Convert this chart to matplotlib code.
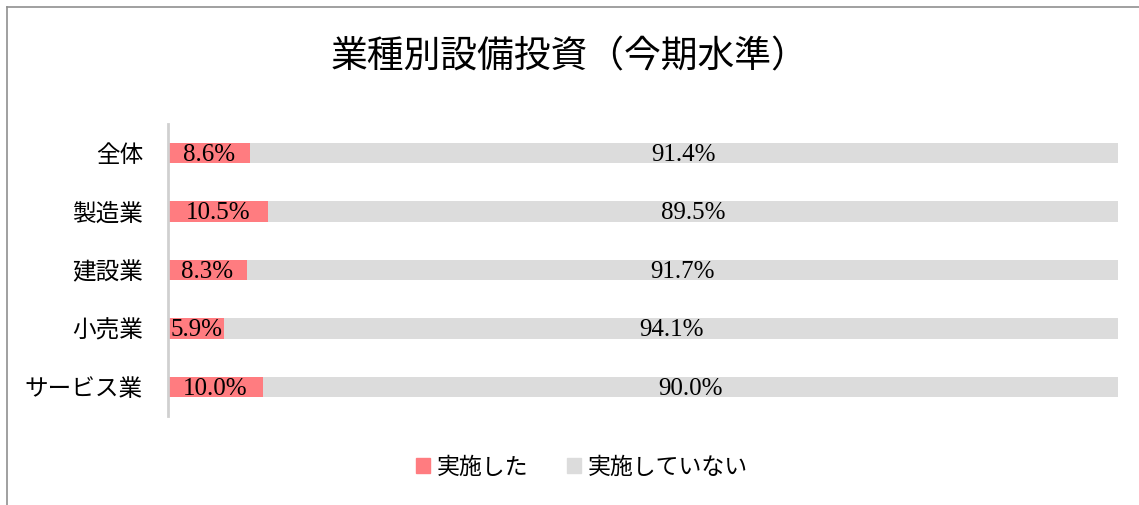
import matplotlib.pyplot as plt
from matplotlib.lines import Line2D

plt.rcParams['font.family'] = ['Noto Sans CJK JP', 'DejaVu Sans']

categories = ["全体", "製造業", "建設業", "小売業", "サービス業"]
done = [8.6, 10.5, 8.3, 5.9, 10.0]
not_done = [91.4, 89.5, 91.7, 94.1, 90.0]
series_names = ["実施した", "実施していない"]

pink = "#FF7C80"
gray = "#DCDCDC"

fig = plt.figure(figsize=(11.39, 5.05), dpi=100)
ax = fig.add_axes([168 / 1139, 1 - 416 / 505, (1118 - 168) / 1139, (416 - 124) / 505])

y = list(range(len(categories)))
h = 0.35
ax.barh(y, done, height=h, color=pink, label=series_names[0])
ax.barh(y, not_done, left=done, height=h, color=gray, label=series_names[1])

for i in y:
    ax.text(done[i] / 2, i + 0.03, f"{done[i]:.1f}%", ha="center", va="center",
            fontsize=18, family="Liberation Serif")
    ax.text(done[i] + not_done[i] / 2, i + 0.03, f"{not_done[i]:.1f}%", ha="center",
            va="center", fontsize=18, family="Liberation Serif")

ax.set_xlim(0, 100)
ax.set_ylim(len(categories) - 0.5, -0.5)
ax.set_yticks(y)
ax.set_yticklabels(categories, fontsize=17)
ax.tick_params(axis="y", length=0, pad=18)
ax.set_xticks([])
for s in ["top", "right", "bottom"]:
    ax.spines[s].set_visible(False)
ax.spines["left"].set_color("#D0D0D0")
ax.spines["left"].set_linewidth(2)

fig.text(569 / 1139, 1 - 57 / 505, "業種別設備投資（今期水準）", ha="center", va="center",
         fontsize=26.5)

handles = [plt.Rectangle((0, 0), 1, 1, color=pink), plt.Rectangle((0, 0), 1, 1, color=gray)]
fig.legend(handles, series_names, loc="center", bbox_to_anchor=(582 / 1139, 1 - 467 / 505),
           ncol=2, frameon=False, fontsize=16.5, handlelength=0.6, handleheight=0.6,
           handletextpad=0.3, columnspacing=1.7)

# chart frame (cut off at right and bottom)
fig.add_artist(Line2D([7 / 1139, 1], [1 - 7 / 505, 1 - 7 / 505], color="#909090", lw=1.2,
                      transform=fig.transFigure))
fig.add_artist(Line2D([7 / 1139, 7 / 1139], [0, 1 - 7 / 505], color="#909090", lw=1.2,
                      transform=fig.transFigure))

fig.savefig("out.png", dpi=100)
